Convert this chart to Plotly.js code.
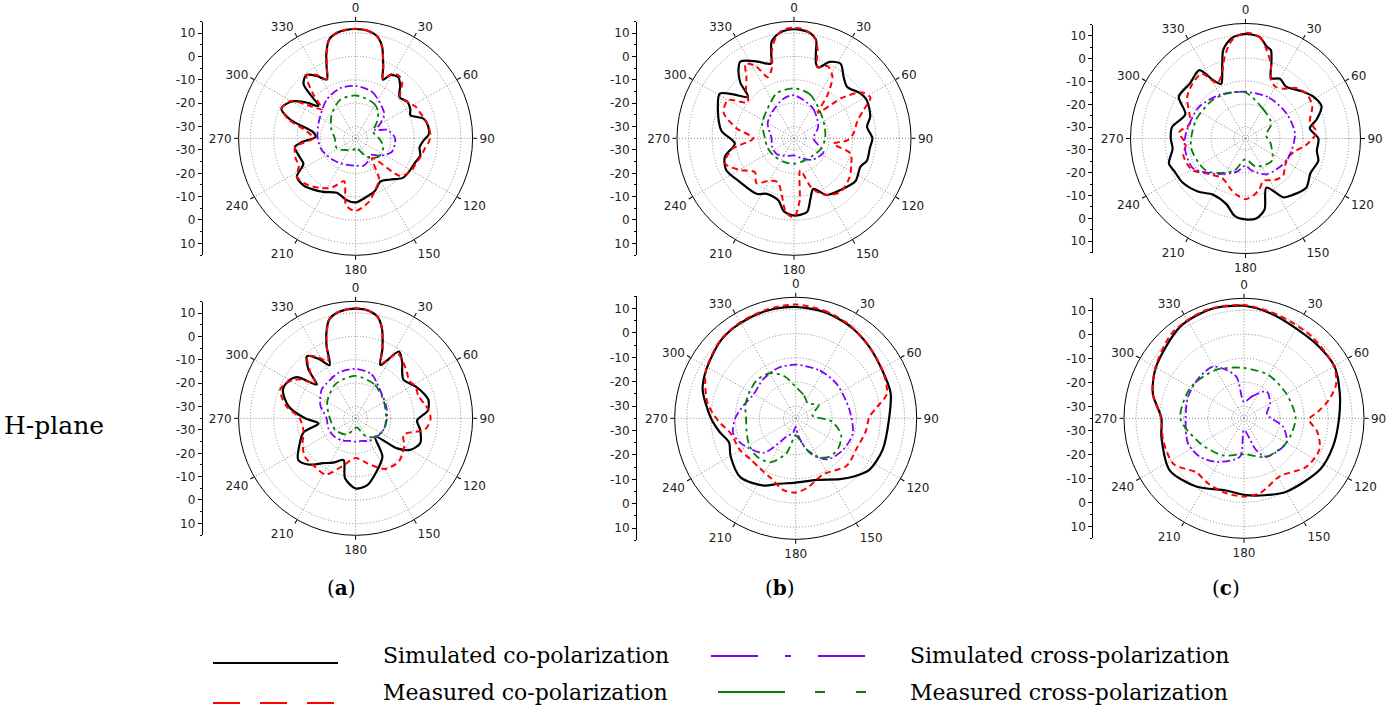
<!DOCTYPE html>
<html><head><meta charset="utf-8">
<script src="https://cdn.plot.ly/plotly-3.0.1.min.js"></script>
<style>html,body{margin:0;padding:0;background:#fff}#chart{width:1397px;height:713px}</style>
</head><body><div id="chart"></div>
<script>
// ---------- DATA ----------
const seriesNames = ["Simulated co-polarization","Measured co-polarization","Simulated cross-polarization","Measured cross-polarization"];
const panelLabels = ["a","b","c"];
const rowLabel = "H-plane";
const angleTicks = [0,30,60,90,120,150,180,210,240,270,300,330];
const angleLabels = ["0","30","60","90","120","150","180","210","240","270","300","330"];
const radialGrid = [-30,-20,-10,0,10];
const leftTickLabels = ["10","0","-10","-20","-30","-30","-20","-10","0","10"];

// Panel (a) top
const a1SimCoT = [0,6,12,16,21,25,29,35,40,47,55,62,67,74,80,87,92,98,105,112,120,130,140,150,160,169,180,188,199,211,220,228,237,244,252,262,266,272,278,286,292,300,306,311,316,322,328,334,338,341,345,350,355,360];
const a1SimCoR = [11.7,11.3,9.5,5.9,-2.1,-7.4,-4,-3.2,-5.4,-9.3,-7.9,-8.5,-9.6,-4.7,-3.6,-3.7,-6,-7.4,-6.4,-7.5,-8,-8.7,-12,-13.7,-11,-9.6,-7.6,-8.3,-10.4,-8.3,-6.5,-5,-5.1,-10.2,-9.7,-8.8,-12,-17.9,-16.8,-5.9,-0.8,-3.5,-9,-13.9,-3,-0.7,-3.6,-7,-1.9,3.4,8.7,10.8,11.5,11.7];
const a1MeaCoT = [0,6,12,16,21,25,30,35,40,47,55,62,67,74,80,87,92,98,105,112,120,130,140,150,160,169,180,188,195,205,215,228,237,244,252,262,270,278,286,292,300,306,311,316,322,328,334,338,341,345,350,355,360];
const a1MeaCoR = [11.8,11.3,9.5,5.9,-2,-7,-3,-2.5,-4,-9,-8,-6,-5.5,-4.5,-3.5,-3,-3.5,-5,-6,-7,-7.5,-10,-24,-15,-11,-7,-4,-6,-16,-12,-9,-6,-5,-8,-8,-9,-17,-14,-5,-1,-3,-12,-16,-9,-1,-3,-7,-2,3,8.5,10.8,11.6,11.8];
const a1SimXT = [0,20,40,50,60,67,75,90,110,125,139,150,164,180,200,225,251,270,292,323,343,360];
const a1SimXR = [-12.6,-14,-17.5,-19,-23,-26,-21,-18.1,-18.4,-22,-25.6,-24,-22.8,-23.3,-23,-21.7,-19.7,-18.8,-17.9,-14.4,-12.6,-12.6];
const a1MeaXT = [0,27,40,52,70,90,107,129,149,170,180,190,217,242,270,290,314,338,360];
const a1MeaXR = [-16.7,-18.1,-20,-23.4,-27,-25,-22.6,-22.4,-25.9,-30.6,-31,-30,-28.7,-25.9,-26.1,-24,-20.7,-17.3,-16.7];

// Panel (a) bottom
const a2SimCoT = [0,6,12,16,21,25,33,40,44,51,62,70,76,84,92,100,111,120,126,133,145,160,170,180,190,196,207,216,225,234,246,255,262,270,280,291,298,305,311,316,322,328,334,338,341,345,350,355,360];
const a2SimCoR = [11.9,11.5,9.5,5.5,-3,-9.9,-1,-4,-6.4,-8.7,-6,-4,-2.9,-4,-8.7,-7,-5.4,-8,-13.1,-23.6,-15,-10,-6,-5,-9,-16.4,-13.7,-11.3,-7,-4.7,-8.9,-12,-19,-13.4,-6,-1.7,-2,-4.3,-13,-6,-1.3,-5,-9.7,-2,3.4,8.7,10.8,11.6,11.9];
const a2MeaCoT = [0,6,12,16,21,25,33,40,48,55,62,70,78,84,91,99,109,120,135,150,165,180,195,208,220,233,245,255,270,280,291,300,305,311,316,322,328,334,338,341,345,350,355,360];
const a2MeaCoR = [12,11.5,9.5,5.5,-3,-9,-2,-3.5,-5.5,-7,-6,-6.5,-5,-3.5,-3,-4.9,-13.3,-11,-8.9,-10,-15,-18,-14,-7.8,-8,-7.8,-10,-12,-11.1,-5,-0.5,-3,-6,-12,-7,-1.5,-4,-8,-2,3,8.5,10.8,11.7,12];
const a2SimXT = [0,20,36,50,70,90,110,130,150,165,180,195,210,230,250,270,290,310,320,340,360];
const a2SimXR = [-13.9,-15,-18.3,-20,-21,-21.6,-22,-23,-23.8,-25,-25,-25,-24,-23,-22.6,-22.6,-19,-16,-15.6,-14.2,-13.9];
const a2MeaXT = [0,30,60,90,110,130,150,170,180,190,210,240,270,300,330,360];
const a2MeaXR = [-16.9,-18.5,-21,-22,-22,-23,-26,-31,-31,-30,-27,-25,-24,-21,-18,-16.9];

// Panel (b) top
const b1SimCoT = [0,8,12.7,14,16.4,19,25,32,39,46,55,62,74,81,90,97,107,113,125,138,150,159,165,170,180,188,194,206,214,231,245,255,265,276,290,301,306,312,316,321,325,333,340,343,345,347,350,354,360];
const b1SimCoR = [11.6,10.8,8,3.9,-1.7,-3,1,2.6,-1.3,-3.4,-1,0.1,-1.1,-3.4,-1.5,-2.3,-2.4,-4.1,-3,-5.3,-7,-11.9,-8,-3,-2,-3.5,-7.6,-8.6,-6.4,-5.3,-3,-4.4,-9.6,-3.8,-0.4,2,-3,-8.6,-2,2.7,5,2,-1,-1.6,2.6,7.5,9.5,11,11.6];
const b1MeaCoT = [0,6,12,15,18,25,32,38,43,50,56,62,68,75,85,92,98,105,115,125,139,150,160,169,175,180,186,192,200,210,220,229,240,250,260,270,280,290,300,308,315,322,327,332,337,343,346,350,354,360];
const b1MeaCoR = [12.3,11.5,8.5,4,-3,-1,-4,-12,-20,-8,0,2,-3,-7,-9.4,-12,-18,-10,-8,-6,-4.7,-7,-12,-21,-8,-1.3,-3,-10,-15,-14,-10,-12.9,-8,-3.6,-8,-17.6,-10,-3,-2.4,-10,-6,-2,3,0,-6.6,-3,4,9,11.5,12.3];
const b1SimXT = [0,33,65,90,115,140,160,180,200,228,250,270,300,324,345,360];
const b1SimXR = [-16.6,-19.9,-23.6,-26.7,-21.1,-23,-26,-27.7,-27,-25,-25,-25.4,-22,-20.1,-17.5,-16.6];
const b1MeaXT = [0,20,45,70,90,110,131,155,180,205,230,250,270,295,316,339,360];
const b1MeaXR = [-13.7,-15,-19.1,-21,-21.7,-22.5,-24,-24.5,-24.1,-24,-23.6,-23,-22.6,-20,-18.3,-14.4,-13.7];

// Panel (b) bottom
const b2SimCoT = [0,15,30,45,61,75,90,110,125,135,144,161,180,195,205,223,240,250,260,270,287,298,316,330,345,360];
const b2SimCoR = [11,10.5,9.2,7.5,5.9,5.6,3.6,3.2,2.1,-1,-3.9,-8.1,-8.4,-7,-4.3,-1.6,-3.9,-5.7,-3,0,5.2,7,9.6,10.5,11,11];
const b2MeaCoT = [0,15,30,45,61,75,82,89,100,117,133,154,170,180,190,203,215,228,240,257,268,280,298,316,330,345,360];
const b2MeaCoR = [12,11,9.5,7.5,6,4,-1,-4.6,-5.5,-6.9,-6.2,-9.2,-6,-4.3,-5,-8.3,-9.5,-9.8,-8.5,-7.4,-3,2,7,9.8,10.8,11.5,12];
const b2SimXT = [0,27,50,81,105,124,143,161,172,180,190,206,223,246,257,270,285,300,320,340,360];
const b2SimXR = [-12.8,-12.9,-12.9,-12.5,-10.6,-11.5,-13.7,-21.4,-28,-31.6,-29,-26.7,-15.5,-10,-8.4,-10,-13,-15,-14,-13,-12.8];
const b2MeaXT = [0,20,40,60,80,95,110,125,140,155,170,180,195,210,225,240,255,270,285,300,315,330,345,360];
const b2MeaXR = [-22,-25,-27,-24,-28,-20,-15,-13.5,-14,-18,-26,-28,-20,-14,-12.5,-12.8,-14,-14.5,-13.5,-13,-12.5,-13.5,-17,-22];

// Panel (c) top
const c1SimCoT = [0,8,13,16,19,23,30,38,50,58,67,75,81,90,100,107,118,129,140,147,157,165,172,180,188,196,210,222,235,245,252,262,270,279,292,302,315,326,331,336,342,346,352,360];
const c1SimCoR = [10.5,9.5,6,5,-0.4,-6.5,-5,-6.4,-3,-0.4,0.9,-3,-6.7,-3.3,-3.5,-1.9,-3,-1,-3,-4.5,-11.8,-3,0,0.2,-1,-5.2,-6.8,-4,-1.6,-1,0,-3,-2.5,-2.7,-6.8,-0.8,-1,0.9,-6,-9,-2.2,4.8,9,10.5];
const c1MeaCoT = [0,8,13,19,23,30,38,45,55,65,75,85,95,105,115,125,135,145,157,165,172,180,188,196,210,225,240,255,265,275,285,295,305,315,326,333,340,346,352,360];
const c1MeaCoR = [11,9.5,5,-1,-7,-9,-7.5,-4,-2,-3,-6,-4,-8,-13,-15,-14,-12,-13,-15,-12,-10,-8.6,-10,-12,-15,-13,-8,-7,-9,-6,-10,-8,-4,-2,-1,-8,-5,2,8,11];
const c1SimXT = [0,30,59,85,118,150,170,180,195,220,241,260,275,304,330,360];
const c1SimXR = [-14.7,-14.5,-14.1,-13.4,-14.7,-17,-21,-23.2,-20,-14.9,-8.7,-8.3,-9,-10.6,-13,-14.7];
const c1MeaXT = [0,30,60,80,100,130,160,180,200,230,260,290,320,340,360];
const c1MeaXR = [-15,-20,-22,-26,-24,-20,-22,-26,-20,-13,-11,-12,-13,-14,-15];

// Panel (c) bottom
const c2SimCoT = [0,15,30,45,60,75,90,107,124,150,165,180,194,215,235,257,270,285,300,325,343,360];
const c2SimCoR = [11.9,10,8.3,8.2,8.5,6.3,4.6,3.9,3.2,0.3,-1.8,-3.1,-4,-0.3,2.8,0.3,-0.6,4.3,7.4,11.5,12.5,11.9];
const c2MeaCoT = [0,20,40,60,70,78,85,91,100,112,128,148,168,180,195,210,221,237,255,270,285,300,320,340,360];
const c2MeaCoR = [12.2,10.2,9.2,8.3,5.8,1,-4.1,-7.9,-4.1,-1,-2.1,-6.6,-3.1,-2.4,-3,-4.1,-5,0,-0.1,-0.5,4.4,7.6,11.5,12.8,12.2];
const c2SimXT = [0,20,40,60,80,102,120,150,159,180,186,212,229,246,270,291,313,329,340,350,360];
const c2SimXR = [-28.2,-25.3,-20.4,-22.4,-25.3,-18.4,-14.6,-16.5,-20.8,-30.1,-18.9,-13.6,-10.6,-9.4,-10.7,-10,-9.7,-9.9,-13.6,-17.6,-28.2];
const c2MeaXT = [0,30,60,90,120,150,180,210,240,270,300,330,360];
const c2MeaXR = [-14,-14.3,-14.6,-13.5,-14.6,-16.5,-20,-17.2,-14,-8.5,-9.3,-11.7,-14];

// ---------- LAYOUT / STYLE ----------
const W = 1397, H = 713;
const panelGeom = [
  {cx:355.6, cy:138.3, R:117, axX:202.7, axR:116.7},
  {cx:794.0, cy:138.3, R:117, axX:637.0, axR:116.7},
  {cx:1245.5, cy:138.5, R:115, axX:1093.3, axR:114},
  {cx:355.6, cy:418.3, R:117, axX:202.7, axR:116.7},
  {cx:795.7, cy:418.3, R:121, axX:637.0, axR:122},
  {cx:1244.0, cy:418.3, R:120, axX:1093.3, axR:120}
];
const panelData = [
  [[a1SimCoT,a1SimCoR],[a1MeaCoT,a1MeaCoR],[a1SimXT,a1SimXR],[a1MeaXT,a1MeaXR]],
  [[b1SimCoT,b1SimCoR],[b1MeaCoT,b1MeaCoR],[b1SimXT,b1SimXR],[b1MeaXT,b1MeaXR]],
  [[c1SimCoT,c1SimCoR],[c1MeaCoT,c1MeaCoR],[c1SimXT,c1SimXR],[c1MeaXT,c1MeaXR]],
  [[a2SimCoT,a2SimCoR],[a2MeaCoT,a2MeaCoR],[a2SimXT,a2SimXR],[a2MeaXT,a2MeaXR]],
  [[b2SimCoT,b2SimCoR],[b2MeaCoT,b2MeaCoR],[b2SimXT,b2SimXR],[b2MeaXT,b2MeaXR]],
  [[c2SimCoT,c2SimCoR],[c2MeaCoT,c2MeaCoR],[c2SimXT,c2SimXR],[c2MeaXT,c2MeaXR]]
];
const seriesStyle = [
  {color:'#000000', width:2.2, dash:'solid'},
  {color:'#ff0000', width:2, dash:'6px,4px'},
  {color:'#8000ff', width:1.8, dash:'8px,3px,2px,3px'},
  {color:'#008000', width:1.8, dash:'8px,4px,3px,4px'}
];
const rMin = -35, rMax = 15;
const tickFont = {family:'DejaVu Sans, sans-serif', size:12, color:'#222'};
const serif = 'DejaVu Serif, Liberation Serif, serif';

const traces = [];
const layout = {
  width: W, height: H,
  margin: {l:0, r:0, t:0, b:0},
  paper_bgcolor: '#fff', plot_bgcolor: 'rgba(0,0,0,0)',
  showlegend: false,
  shapes: [], annotations: []
};

panelGeom.forEach((g, i) => {
  const pn = i === 0 ? 'polar' : 'polar' + (i + 1);
  layout[pn] = {
    domain: {x: [(g.cx - g.R) / W, (g.cx + g.R) / W], y: [1 - (g.cy + g.R) / H, 1 - (g.cy - g.R) / H]},
    bgcolor: 'rgba(0,0,0,0)',
    angularaxis: {
      rotation: 90, direction: 'clockwise', tickmode: 'array',
      tickvals: angleTicks, ticktext: angleLabels,
      showline: true, linecolor: '#000', linewidth: 1,
      ticks: 'outside', ticklen: 4, tickcolor: '#000',
      showgrid: true, gridcolor: '#888', griddash: '1px,2px', gridwidth: 1,
      tickfont: tickFont
    },
    radialaxis: {
      range: [rMin, rMax], tickmode: 'array', tickvals: radialGrid,
      showticklabels: false, ticks: '', showline: false,
      showgrid: true, gridcolor: '#888', griddash: '1px,2px', gridwidth: 1
    }
  };
  panelData[i].forEach((s, k) => {
    traces.push({
      type: 'scatterpolar', subplot: pn, mode: 'lines',
      theta: s[0], r: s[1], name: seriesNames[k], showlegend: false,
      line: {color: seriesStyle[k].color, width: seriesStyle[k].width, dash: seriesStyle[k].dash, shape: 'spline', smoothing: 0.8},
      hoverinfo: 'skip'
    });
  });
  // left radial scale as a cartesian y axis
  const n = i + 1, sx = n === 1 ? '' : String(n);
  const span = rMax - rMin; // 50 dB from centre to rim
  const tv = [], mv = [];
  radialGrid.slice().reverse().forEach(v => tv.push(v - rMin));
  radialGrid.forEach(v => tv.push(-(v - rMin)));
  for (let v = -span; v <= span; v += 10) mv.push(v);
  layout['xaxis' + sx] = {domain: [g.axX / W, g.axX / W + 0.005], visible: false, anchor: 'y' + sx, range: [0, 1]};
  layout['yaxis' + sx] = {
    domain: [1 - (g.cy + g.axR) / H, 1 - (g.cy - g.axR) / H],
    range: [-span, span], anchor: 'x' + sx, side: 'left',
    showline: true, linecolor: '#000', linewidth: 1,
    tickmode: 'array', tickvals: tv, ticktext: leftTickLabels,
    ticks: 'outside', ticklen: 4, tickcolor: '#000',
    minor: {tickmode: 'array', tickvals: mv, ticks: 'outside', ticklen: 2, tickcolor: '#000'},
    showgrid: false, zeroline: false, fixedrange: true,
    tickfont: tickFont
  };
  traces.push({type: 'scatter', x: [], y: [], xaxis: 'x' + sx, yaxis: 'y' + sx, showlegend: false, hoverinfo: 'skip'});
});

// panel letters
const letterX = [341, 780, 1226];
panelLabels.forEach((p, j) => {
  layout.annotations.push({xref:'paper', yref:'paper', x: letterX[j] / W, y: 1 - 588 / H, text: '(<b>' + p + '</b>)', showarrow:false, xanchor:'center', yanchor:'middle', font:{family: serif, size: 20, color:'#000'}});
});
layout.annotations.push({xref:'paper', yref:'paper', x: 2 / W, y: 1 - 425 / H, text: rowLabel, showarrow:false, xanchor:'left', yanchor:'middle', font:{family: serif, size: 25, color:'#000'}});

// legend (drawn manually to reproduce the long line samples)
const legItems = [
  {x0:213, x1:338, y:663, tx:381, ty:655},
  {x0:213, x1:336, y:703, tx:381, ty:692},
  {x0:711, x1:866, y:656, tx:908, ty:655},
  {x0:718, x1:866, y:692, tx:908, ty:692}
];
const legDash = ['solid', '27px,20px', '47px,27px,6px,27px', '67px,30px,10px,31px,10px'];
legItems.forEach((L, k) => {
  layout.shapes.push({type:'line', xref:'paper', yref:'paper', x0: L.x0 / W, x1: L.x1 / W, y0: 1 - L.y / H, y1: 1 - L.y / H,
    line: {color: seriesStyle[k].color, width: 2, dash: legDash[k]}});
  layout.annotations.push({xref:'paper', yref:'paper', x: L.tx / W, y: 1 - L.ty / H, text: seriesNames[k], showarrow:false, xanchor:'left', yanchor:'middle', font:{family: serif, size: 22, color:'#000'}});
});

Plotly.newPlot('chart', traces, layout, {staticPlot: true, displayModeBar: false});
</script>
</body></html>
